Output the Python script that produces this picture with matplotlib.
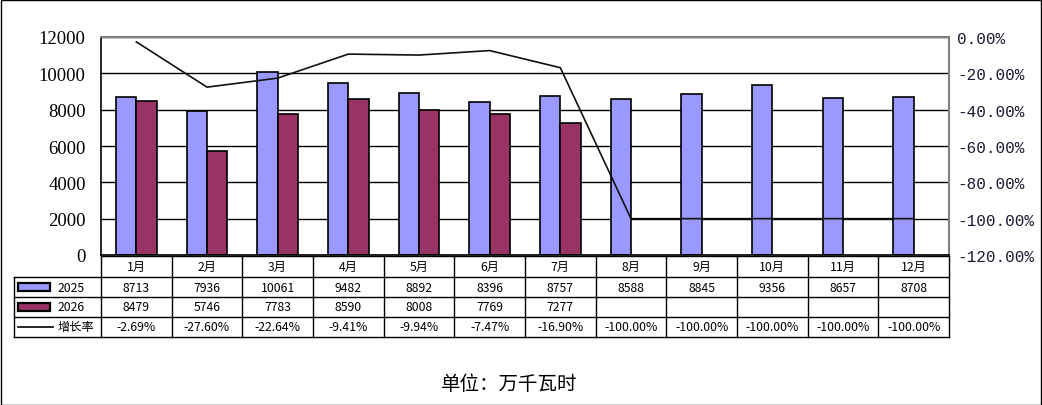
import matplotlib
matplotlib.use('Agg')
import matplotlib.pyplot as plt
from matplotlib.patches import Rectangle
from matplotlib.lines import Line2D
from matplotlib.transforms import blended_transform_factory
from matplotlib.ticker import FuncFormatter

# data
months = ['1月', '2月', '3月', '4月', '5月', '6月', '7月', '8月', '9月', '10月', '11月', '12月']
vals_2025 = [8713, 7936, 10061, 9482, 8892, 8396, 8757, 8588, 8845, 9356, 8657, 8708]
vals_2026 = [8479, 5746, 7783, 8590, 8008, 7769, 7277]
growth = [-2.69, -27.60, -22.64, -9.41, -9.94, -7.47, -16.90, -100.00, -100.00, -100.00, -100.00, -100.00]
series_names = ['2025', '2026', '增长率']
unit_text = '单位：万千瓦时'

c_2025 = '#9999FF'
c_2026 = '#993366'
W, H = 1042, 406

def fx(px):
    return px / W

def fy(py):
    return 1 - py / H

fig = plt.figure(figsize=(W / 100, H / 100), dpi=100)
ax = fig.add_axes([fx(101), fy(256), fx(949) - fx(101), fy(38) - fy(256)])

x = list(range(len(months)))
bw = 0.29
ax.bar([i - bw / 2 for i in x], vals_2025, width=bw, color=c_2025, edgecolor='black', linewidth=1.2, zorder=2)
ax.bar([i + bw / 2 for i in range(len(vals_2026))], vals_2026, width=bw, color=c_2026,
       edgecolor='black', linewidth=1.2, zorder=2)

ax.set_xlim(-0.5, len(months) - 0.5)
ax.set_ylim(0, 12000)
ax.set_yticks(range(0, 12001, 2000))
ax.set_xticks([])
ax.set_axisbelow(True)
ax.yaxis.grid(True, color='black', linewidth=1.0)
ax.tick_params(axis='y', length=0, pad=11, labelsize=13.5)
for lab in ax.get_yticklabels():
    lab.set_fontfamily('Liberation Serif')
ax.spines['top'].set_color('#808080')
ax.spines['right'].set_color('#808080')
ax.spines['top'].set_linewidth(1.5)
ax.spines['right'].set_linewidth(1.5)
ax.spines['left'].set_linewidth(1.2)
ax.spines['bottom'].set_linewidth(1.2)

ax2 = ax.twinx()
ax2.set_ylim(-1.2, 0)
ax2.set_yticks([-1.2, -1.0, -0.8, -0.6, -0.4, -0.2, 0.0])
ax2.yaxis.set_major_formatter(FuncFormatter(lambda v, p: '%.2f%%' % (0.0 if abs(v) < 1e-9 else v * 100)))
ax2.tick_params(axis='y', length=0, pad=6, labelsize=11.5, labelcolor='#1a1a33')
for lab in ax2.get_yticklabels():
    lab.set_fontfamily('Liberation Mono')
for s in ax2.spines.values():
    s.set_visible(False)
ax2.plot(x, [g / 100 for g in growth], color='#111111', linewidth=1.2)

# data table under the chart
tab_font = ['Noto Sans CJK SC', 'DejaVu Sans']
tab_size = 8.8
rows_px = [257, 278, 298, 318, 338]
trans = blended_transform_factory(ax.transData, fig.transFigure)
tl = 1.0
x0, x1 = -0.5, len(months) - 0.5
for k, ry in enumerate(rows_px):
    fig.add_artist(Line2D([x0, x1], [fy(ry), fy(ry)], transform=trans, color='black', linewidth=tl))
    if k >= 1:
        fig.add_artist(Line2D([fx(14), fx(101)], [fy(ry), fy(ry)], transform=fig.transFigure,
                              color='black', linewidth=tl))
for i in range(len(months) + 1):
    fig.add_artist(Line2D([i - 0.5, i - 0.5], [fy(rows_px[0]), fy(rows_px[-1])], transform=trans,
                          color='black', linewidth=tl))
fig.add_artist(Line2D([fx(14), fx(14)], [fy(rows_px[1]), fy(rows_px[-1])], transform=fig.transFigure,
                      color='black', linewidth=tl))

def row_mid(k):
    return fy((rows_px[k] + rows_px[k + 1]) / 2)

for i, m in enumerate(months):
    fig.text(i, row_mid(0), m, transform=trans, ha='center', va='center', fontsize=tab_size, family=tab_font)
    fig.text(i, row_mid(1), str(vals_2025[i]), transform=trans, ha='center', va='center', fontsize=tab_size, family=tab_font)
    if i < len(vals_2026):
        fig.text(i, row_mid(2), str(vals_2026[i]), transform=trans, ha='center', va='center', fontsize=tab_size, family=tab_font)
    fig.text(i, row_mid(3), '%.2f%%' % growth[i], transform=trans, ha='center', va='center', fontsize=tab_size, family=tab_font)

# legend keys in the first column
for k, col in [(1, c_2025), (2, c_2026)]:
    ym = (rows_px[k] + rows_px[k + 1]) / 2
    fig.add_artist(Rectangle((fx(18), fy(ym + 4)), fx(50) - fx(18), fy(ym - 4) - fy(ym + 4),
                             transform=fig.transFigure, facecolor=col, edgecolor='black', linewidth=1.6))
ym = (rows_px[3] + rows_px[4]) / 2
fig.add_artist(Line2D([fx(18), fx(53)], [fy(ym), fy(ym)], transform=fig.transFigure, color='black', linewidth=1.2))
for k, name in enumerate(series_names):
    fig.text(fx(58), row_mid(k + 1), name, ha='left', va='center', fontsize=tab_size, family=tab_font)

fig.text(fx(509), fy(385), unit_text, ha='center', va='center', fontsize=14, family=['Noto Sans CJK SC'])

# outer frame
fig.add_artist(Rectangle((fx(0.5), fy(405.5)), fx(1041) - fx(0.5), fy(0.5) - fy(405.5),
                         transform=fig.transFigure, fill=False, edgecolor='black', linewidth=1.0))

fig.savefig('out.png', dpi=100)
